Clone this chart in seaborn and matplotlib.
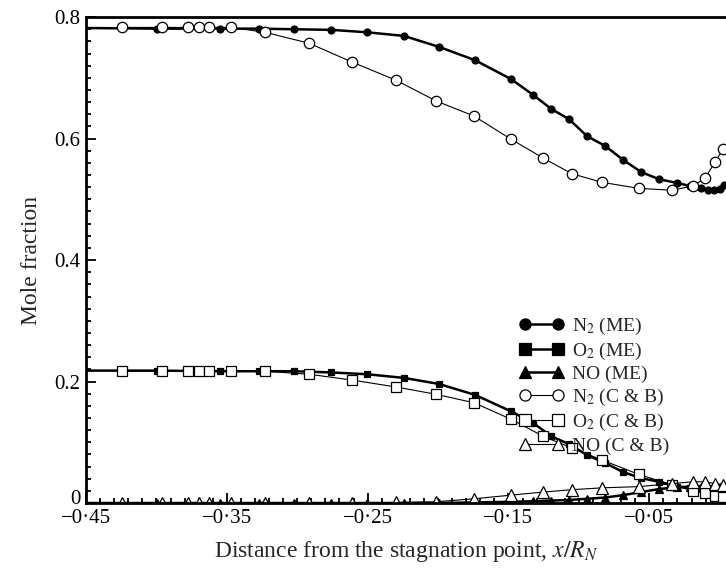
import numpy as np
import pandas as pd
import matplotlib
matplotlib.use('Agg')
import matplotlib.pyplot as plt
import matplotlib.transforms as mtransforms
from matplotlib.ticker import FixedLocator, MultipleLocator, FuncFormatter
import seaborn as sns

# --- DATA ---
# ME results
x_me = [-0.45, -0.3996, -0.3548, -0.327, -0.3023, -0.276, -0.2504, -0.2242, -0.1993,
        -0.1737, -0.1482, -0.1325, -0.1197, -0.107, -0.0942, -0.0814, -0.0686,
        -0.0558, -0.043, -0.0303, -0.021, -0.013, -0.008, -0.004, 0.0, 0.003]
n2_me = [0.782, 0.781, 0.781, 0.781, 0.780, 0.779, 0.775, 0.769, 0.751,
         0.729, 0.698, 0.672, 0.649, 0.632, 0.604, 0.588, 0.565,
         0.545, 0.533, 0.527, 0.522, 0.519, 0.516, 0.515, 0.517, 0.523]
o2_me = [0.218, 0.218, 0.217, 0.217, 0.217, 0.215, 0.212, 0.206, 0.196,
         0.178, 0.151, 0.132, 0.110, 0.097, 0.079, 0.066, 0.051,
         0.041, 0.035, 0.027, 0.025, 0.024, 0.025, 0.024, 0.024, 0.025]
no_me = [0.0, 0.0, 0.0, 0.0, 0.0, 0.0, 0.0, 0.0, 0.0,
         0.001, 0.002, 0.003, 0.004, 0.005, 0.007, 0.009, 0.013,
         0.018, 0.023, 0.026, 0.027, 0.027, 0.027, 0.026, 0.026, 0.026]

# C & B results
x_cb = [-0.4244, -0.396, -0.3776, -0.370, -0.3626, -0.347, -0.3229, -0.2916, -0.2611,
        -0.2298, -0.2014, -0.1744, -0.1482, -0.1254, -0.1048, -0.0835, -0.0573,
        -0.0338, -0.0189, -0.0104, -0.0033, 0.0024]
n2_cb = [0.783, 0.783, 0.783, 0.783, 0.783, 0.783, 0.775, 0.757, 0.726,
         0.696, 0.662, 0.637, 0.599, 0.568, 0.542, 0.528, 0.518,
         0.515, 0.522, 0.535, 0.561, 0.583]
o2_cb = [0.217, 0.217, 0.217, 0.217, 0.217, 0.217, 0.217, 0.212, 0.2025,
         0.191, 0.179, 0.165, 0.138, 0.110, 0.0905, 0.0708, 0.047,
         0.030, 0.020, 0.016, 0.012, 0.010]
no_cb = [0.0, 0.0, 0.0, 0.0, 0.0, 0.0, 0.0, 0.0, 0.0,
         0.001, 0.002, 0.007, 0.013, 0.018, 0.022, 0.025, 0.027,
         0.032, 0.035, 0.035, 0.032, 0.030]

x_ticks = [-0.45, -0.35, -0.25, -0.15, -0.05]
y_ticks = [0.0, 0.2, 0.4, 0.6, 0.8]

# --- STYLE ---
sns.set_style('ticks')
plt.rcParams['font.family'] = ['Liberation Serif', 'DejaVu Serif']
plt.rcParams['mathtext.fontset'] = 'stix'

fig = plt.figure(figsize=(7.26, 5.7), dpi=100)
ax = fig.add_axes([0.1185, 0.1175, 0.8815, 0.8525])

# (x, y, marker, face, plot size, legend size, line width, label)
series = [
    (x_me, n2_me, 'o', 'black', 5, 8, 1.8, 'N$_2$ (ME)'),
    (x_me, o2_me, 's', 'black', 5, 8, 1.8, 'O$_2$ (ME)'),
    (x_me, no_me, '^', 'black', 5.5, 9, 1.8, 'NO (ME)'),
    (x_cb, n2_cb, 'o', 'white', 7.5, 8, 0.8, 'N$_2$ (C & B)'),
    (x_cb, o2_cb, 's', 'white', 7, 8, 0.8, 'O$_2$ (C & B)'),
    (x_cb, no_cb, '^', 'white', 8, 8.5, 0.8, 'NO (C & B)'),
]
for xs, ys, mk, fc, ms, lms, lw, lab in series:
    # the ME curves start on the axis without a marker
    mev = list(range(1, len(xs))) if xs is x_me else None
    sns.lineplot(x=xs, y=ys, ax=ax, color='black', marker=mk, markersize=ms,
                 markerfacecolor=fc, markeredgecolor='black', markeredgewidth=0.9,
                 linewidth=lw, label=lab, markevery=mev)

ax.set_xlim(-0.45, 0.0045)
ax.set_ylim(0, 0.8)

ax.xaxis.set_major_locator(FixedLocator(x_ticks))
ax.xaxis.set_minor_locator(MultipleLocator(0.01))
ax.yaxis.set_major_locator(FixedLocator(y_ticks))
ax.yaxis.set_minor_locator(MultipleLocator(0.02))
ax.xaxis.set_major_formatter(FuncFormatter(
    lambda v, p: ('\u2212' if v < 0 else '') + f'{abs(v):.2f}'.replace('.', '\u00b7')))
ax.yaxis.set_major_formatter(FuncFormatter(lambda v, p: '0' if v == 0 else f'{v:.1f}'))

ax.tick_params(which='both', direction='in', top=False, right=False,
               labelsize=15, width=1.3, colors='black')
ax.tick_params(which='major', length=7, pad=4)
ax.tick_params(which='minor', length=3.5)

# lift the y "0" a little so it sits above the first x label
for lbl in ax.get_yticklabels():
    if lbl.get_text() == '0':
        lbl.set_transform(lbl.get_transform() +
                          mtransforms.ScaledTranslation(0, 4 / 72, fig.dpi_scale_trans))

for side in ['left', 'bottom', 'top']:
    ax.spines[side].set_visible(True)
    ax.spines[side].set_linewidth(2)
    ax.spines[side].set_color('black')
ax.spines['right'].set_visible(False)

ax.set_xlabel('Distance from the stagnation point, $x/R_N$', fontsize=17, labelpad=8)
ax.set_ylabel('Mole fraction', fontsize=17, labelpad=9)

leg = ax.legend(loc='upper left', bbox_to_anchor=(0.677, 0.386), frameon=False,
                fontsize=14, handlelength=2.3, handletextpad=0.4, labelspacing=0.2,
                borderpad=0, borderaxespad=0, numpoints=2)
for h, s in zip(leg.legend_handles, series):
    h.set_markersize(s[5])
    h.set_markevery(None)

fig.savefig('out.png', dpi=100)
